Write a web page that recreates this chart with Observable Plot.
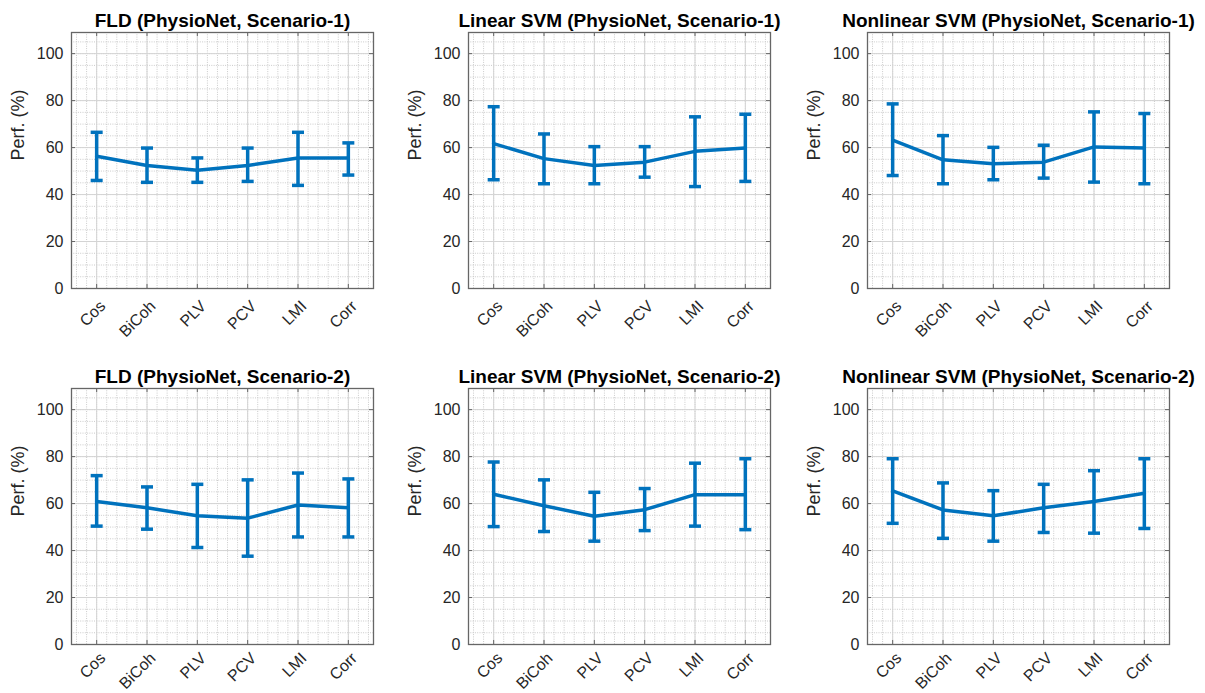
<!DOCTYPE html>
<html><head><meta charset="utf-8">
<script src="https://cdn.jsdelivr.net/npm/d3@7"></script>
<script src="https://cdn.jsdelivr.net/npm/@observablehq/plot@0.6"></script>
<style>
html,body{margin:0;padding:0;background:#fff;overflow:hidden}
#root{position:relative;width:1205px;height:693px}
#root svg{position:absolute;overflow:visible;background:transparent}
</style></head><body><div id="root"></div>
<script>
const categories = ["Cos", "BiCoh", "PLV", "PCV", "LMI", "Corr"];
const titles = [
  "FLD (PhysioNet, Scenario-1)", "Linear SVM (PhysioNet, Scenario-1)", "Nonlinear SVM (PhysioNet, Scenario-1)",
  "FLD (PhysioNet, Scenario-2)", "Linear SVM (PhysioNet, Scenario-2)", "Nonlinear SVM (PhysioNet, Scenario-2)"
];
const yTickValues = [0, 20, 40, 60, 80, 100];
const yLabel = "Perf. (%)";

const fldS1Mean = [56.3, 52.4, 50.3, 52.4, 55.6, 55.6];
const fldS1Hi   = [66.5, 59.8, 55.6, 59.8, 66.5, 62.0];
const fldS1Lo   = [46.0, 45.2, 45.2, 45.6, 43.9, 48.3];

const linS1Mean = [61.7, 55.3, 52.4, 53.8, 58.4, 59.8];
const linS1Hi   = [77.4, 65.8, 60.4, 60.4, 73.1, 74.2];
const linS1Lo   = [46.3, 44.6, 44.6, 47.4, 43.4, 45.6];

const nonS1Mean = [63.2, 54.8, 53.1, 53.8, 60.3, 59.8];
const nonS1Hi   = [78.6, 65.1, 60.1, 61.0, 75.2, 74.5];
const nonS1Lo   = [48.1, 44.6, 46.3, 47.0, 45.3, 44.6];

const fldS2Mean = [60.9, 58.2, 54.8, 53.8, 59.4, 58.2];
const fldS2Hi   = [71.9, 67.1, 68.2, 70.1, 73.0, 70.5];
const fldS2Lo   = [50.4, 49.1, 41.3, 37.6, 45.8, 45.8];

const linS2Mean = [64.0, 59.1, 54.6, 57.4, 63.8, 63.8];
const linS2Hi   = [77.7, 70.1, 64.8, 66.4, 77.2, 79.1];
const linS2Lo   = [50.2, 48.1, 44.0, 48.5, 50.4, 48.9];

const nonS2Mean = [65.4, 57.3, 54.8, 58.2, 60.9, 64.4];
const nonS2Hi   = [79.1, 68.8, 65.5, 68.2, 74.0, 79.1];
const nonS2Lo   = [51.6, 45.2, 44.0, 47.7, 47.4, 49.4];

const panels = [
  {title: titles[0], mean: fldS1Mean, hi: fldS1Hi, lo: fldS1Lo},
  {title: titles[1], mean: linS1Mean, hi: linS1Hi, lo: linS1Lo},
  {title: titles[2], mean: nonS1Mean, hi: nonS1Hi, lo: nonS1Lo},
  {title: titles[3], mean: fldS2Mean, hi: fldS2Hi, lo: fldS2Lo},
  {title: titles[4], mean: linS2Mean, hi: linS2Hi, lo: linS2Lo},
  {title: titles[5], mean: nonS2Mean, hi: nonS2Hi, lo: nonS2Lo}
];

const blue = "#0072BD";
const axisColor = "#666666";
const font = "'Liberation Sans', Arial, Helvetica, sans-serif";
const plotW = 302, plotH = 256, mL = 70, mR = 30, mT = 32;
const colLeft = [1, 398, 797];
const rowTop = [0, 356];
const rowBottom = [60, 49];
const rowPad = [15, 11];

const xTicks = categories.map((c, i) => i + 1);
const minorX = d3.range(0.6, 6.5, 0.2).map(v => Math.round(v * 10) / 10);
const minorY = d3.range(5, 110, 5);
const cap = {draw(ctx) { ctx.moveTo(-6, 0); ctx.lineTo(6, 0); }};

const root = document.getElementById("root");
panels.forEach((p, k) => {
  const r = Math.floor(k / 3), c = k % 3;
  const data = categories.map((cat, i) => ({x: i + 1, cat, mean: p.mean[i], hi: p.hi[i], lo: p.lo[i]}));
  const svg = Plot.plot({
    width: mL + plotW + mR,
    height: mT + plotH + rowBottom[r],
    marginLeft: mL, marginRight: mR, marginTop: mT, marginBottom: rowBottom[r],
    x: {domain: [0.5, 6.5]},
    y: {domain: [0, 109]},
    style: {fontFamily: font, fontSize: "16px", color: "#262626", background: "transparent", overflow: "visible"},
    marks: [
      Plot.ruleX(minorX, {stroke: "#cacaca", strokeDasharray: "1,1.3", strokeWidth: 1}),
      Plot.ruleY(minorY, {stroke: "#cacaca", strokeDasharray: "1,1.3", strokeWidth: 1}),
      Plot.ruleX(xTicks, {stroke: "#d4d4d4", strokeWidth: 1}),
      Plot.ruleY(yTickValues, {stroke: "#d4d4d4", strokeWidth: 1}),
      Plot.tickY(yTickValues, {y: d => d, insetRight: plotW - 4, stroke: axisColor}),
      Plot.tickY(yTickValues, {y: d => d, insetLeft: plotW - 4, stroke: axisColor}),
      Plot.tickX(xTicks, {x: d => d, insetTop: plotH - 4, stroke: axisColor}),
      Plot.tickX(xTicks, {x: d => d, insetBottom: plotH - 4, stroke: axisColor}),
      Plot.axisY({ticks: yTickValues, tickSize: 0, tickPadding: 8, label: null, fill: "#262626"}),
      Plot.axisX({ticks: xTicks, tickSize: 0, tickPadding: rowPad[r], dx: 6, tickRotate: -45, tickFormat: i => categories[i - 1], label: null, fill: "#262626"}),
      Plot.line(data, {x: "x", y: "mean", stroke: blue, strokeWidth: 3.5}),
      Plot.ruleX(data, {x: "x", y1: "lo", y2: "hi", stroke: blue, strokeWidth: 3.5}),
      Plot.dot(data, {x: "x", y: "hi", symbol: cap, stroke: blue, strokeWidth: 3.5}),
      Plot.dot(data, {x: "x", y: "lo", symbol: cap, stroke: blue, strokeWidth: 3.5}),
      Plot.frame({stroke: axisColor, strokeWidth: 1.3}),
      Plot.text([p.title], {frameAnchor: "top", lineAnchor: "bottom", dy: -6, fontSize: 19, fontWeight: "bold", fill: "#000"}),
      Plot.text([yLabel], {frameAnchor: "left", rotate: -90, dx: -53, fontSize: 18, fill: "#262626"})
    ]
  });
  svg.style.left = colLeft[c] + "px";
  svg.style.top = rowTop[r] + "px";
  root.appendChild(svg);
});
</script></body></html>
